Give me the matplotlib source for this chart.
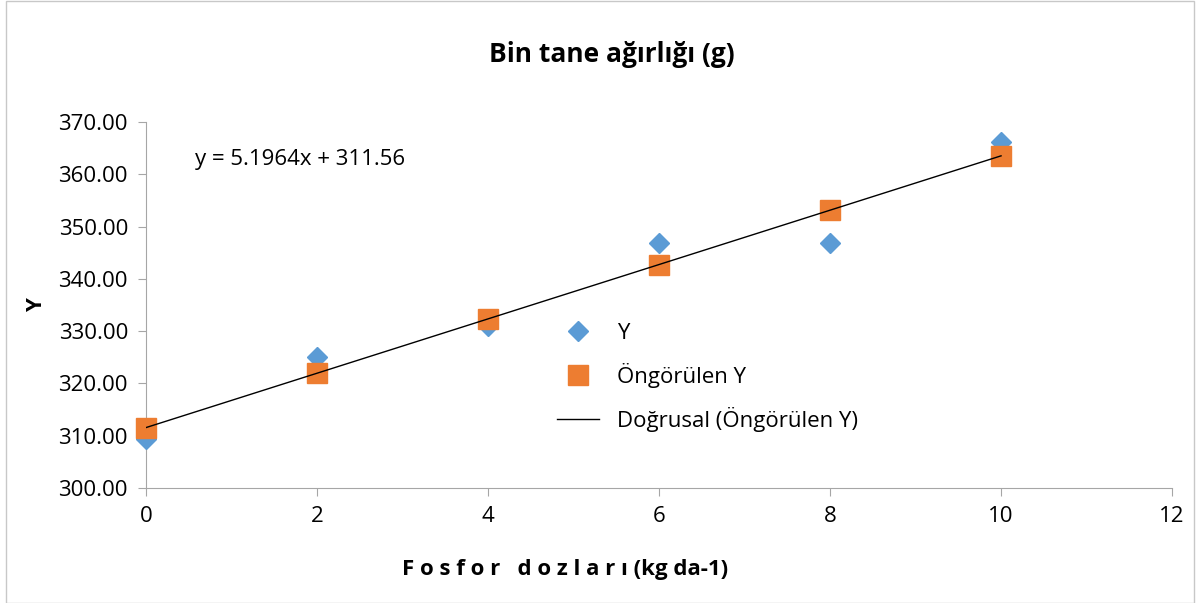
import matplotlib.pyplot as plt
from matplotlib.patches import Rectangle
import numpy as np

plt.rcParams['font.family'] = ['Open Sans', 'DejaVu Sans']

# dữ liệu
doz = [0, 2, 4, 6, 8, 10]
y_gercek = [309.3, 325.1, 331.0, 346.9, 346.9, 366.1]
egim = 5.1964
kesisim = 311.56
y_tahmin = [kesisim + egim * d for d in doz]

x_ticks = [0, 2, 4, 6, 8, 10, 12]
y_ticks = [300, 310, 320, 330, 340, 350, 360, 370]

fig = plt.figure(figsize=(12, 6.03), dpi=100)
ax = fig.add_axes([0.1217, 0.1907, 0.855, 0.607])

ax.plot(doz, y_gercek, linestyle='none', marker='D', ms=10, color='#5B9BD5', label='Y',
        zorder=3, clip_on=False)
ax.plot(doz, y_tahmin, linestyle='none', marker='s', ms=14, color='#ED7D31', label='Öngörülen Y',
        zorder=4, clip_on=False)
xs = np.array([doz[0], doz[-1]])
ax.plot(xs, kesisim + egim * xs, color='black', lw=1, label='Doğrusal (Öngörülen Y)', zorder=5)

ax.set_xlim(0, 12)
ax.set_ylim(300, 370)
ax.set_xticks(x_ticks)
ax.set_yticks(y_ticks)
ax.set_yticklabels(['%.2f' % v for v in y_ticks])
ax.tick_params(labelsize=16, color='#A6A6A6', length=6, pad=7)
for s in ['top', 'right']:
    ax.spines[s].set_visible(False)
for s in ['left', 'bottom']:
    ax.spines[s].set_color('#A6A6A6')

fig.text(0.51, 0.91, 'Bin tane ağırlığı (g)', fontsize=19, fontweight='bold', ha='center', va='center')
fig.text(0.471, 0.055, 'F o s f o r   d o z l a r ı (kg da-1)', fontsize=16, fontweight='bold',
         ha='center', va='center')
ax.set_ylabel('Y', fontsize=16, fontweight='bold', labelpad=8)

ax.text(0.57, 362.8, 'y = 5.1964x + 311.56', fontsize=16, va='center')

ax.legend(loc='upper left', bbox_to_anchor=(0.4006, 0.451), frameon=False, fontsize=16,
          labelspacing=0.85, handlelength=1.9, handletextpad=0.8, borderpad=0,
          borderaxespad=0, numpoints=1)

fig.patches.append(Rectangle((0.005, 0.0), 0.99, 0.998, transform=fig.transFigure,
                             fill=False, edgecolor='#C8C8C8', lw=1))

plt.savefig('out.png', dpi=100)
